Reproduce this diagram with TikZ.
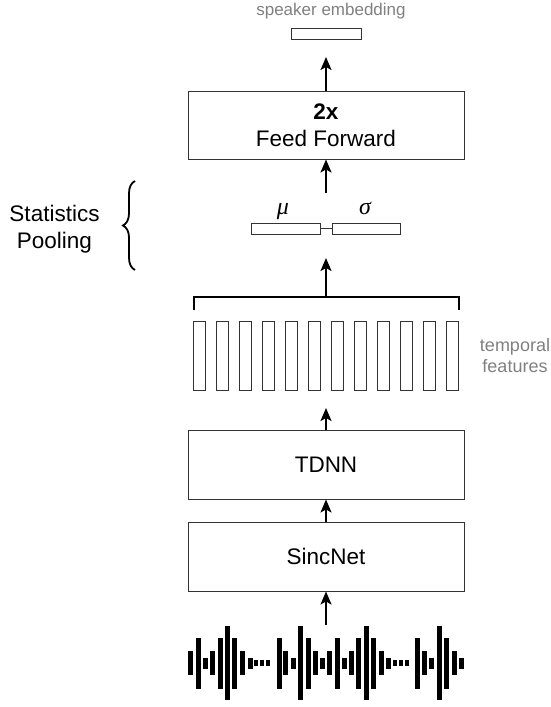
\documentclass[tikz,border=0pt]{standalone}
\usepackage{fontspec}
\setmainfont{Liberation Sans}
\newfontfamily\greekserif{Liberation Serif}
\usetikzlibrary{arrows.meta,decorations.pathreplacing}
\begin{document}
\begin{tikzpicture}[x=1pt,y=-1pt,
  box/.style={draw=black!80, line width=1pt, minimum width=276pt, minimum height=69pt, font=\fontsize{22.5}{27}\selectfont, inner sep=0pt, align=center},
  cell/.style={draw=black!80, line width=1pt, minimum width=12pt, minimum height=69pt, inner sep=0pt},
  vec/.style={draw=black!80, line width=1pt, minimum height=11pt, inner sep=0pt},
  arr/.style={line width=2pt, -{Stealth[length=13pt,width=11pt,inset=3pt]}},
  note/.style={text=black!50, font=\fontsize{17}{21}\selectfont, align=center, inner sep=0pt},
  lbl/.style={font=\fontsize{22.5}{27}\selectfont, align=center, inner sep=0pt},
  greek/.style={font=\fontsize{24}{27}\selectfont\greekserif\itshape, inner sep=0pt},
  wbar/.style={fill=black, draw=none},
]
\useasboundingbox (0,0) rectangle (550,707);

% speaker embedding
\node[note, anchor=base] (se) at (331,15) {speaker embedding};
\node[vec, minimum width=70pt] (emb) at (326,33.5) {};
\coordinate (embin) at (326,57);

% feed forward
\node[box, minimum height=68pt] (ff) at (326,125) {\textbf{2x}\\Feed Forward};
\draw[arr] (ff.north) -- (embin);

% statistics pooling
\node[vec, minimum width=69pt] (mu) at (285.5,228.5) {};
\node[vec, minimum width=68pt] (sigma) at (366,228.5) {};
\draw[line width=1pt, draw=black!80] (mu.east) -- (sigma.west);
\node[greek, anchor=base] (mul) at (283,214) {μ};
\node[greek, anchor=base] (sigl) at (365,214) {σ};
\coordinate (poolout) at (326,193);
\draw[arr] (poolout) -- (ff.south);

\draw[decorate, decoration={brace, amplitude=12pt}, line width=1.8pt] (135,270) -- (135,181);
\node[lbl] (sp) at (54.5,229.5) {Statistics\\Pooling};

% temporal features
\foreach \i in {0,...,11} {
  \node[cell] (t\i) at ({199.5+23.04*\i},355.5) {};
}
\coordinate (bl) at (193.5,310);
\coordinate (br) at (458.5,310);
\coordinate (brt) at (326,297);
\draw[line width=2pt] (bl) |- (brt) -| (br);
\coordinate (poolin) at (326,258);
\draw[arr] (brt) -- (poolin);
\node[note, font=\fontsize{18}{21}\selectfont] (tf) at (515,355.5) {temporal\\features};

% TDNN and SincNet
\node[box] (tdnn) at (326,464.5) {TDNN};
\coordinate (tdout) at (326,408);
\draw[arr] (tdnn.north) -- (tdout);
\node[box] (sinc) at (326,556.5) {SincNet};
\draw[arr] (sinc.north) -- (tdnn.south);
\coordinate (wav) at (326,625);
\draw[arr] (wav) -- (sinc.south);

% waveform
\foreach \x/\h in {190/24, 198/51, 205/11, 212.5/24, 220/51, 227.5/74, 234.5/51, 242/24, 250/11,
  279/51, 285.5/24, 293/11, 300.3/74, 308/51, 315.3/24, 322.5/11, 329.8/24, 337.2/51, 344.5/11, 351.7/24, 358.8/51, 366.5/74, 373.7/51, 381.2/24, 388.3/11,
  417/51, 424.5/24, 431.5/11, 439/74, 446/51, 454/24, 461/11} {
  \fill[wbar] ({\x-2.5},{663-\h/2}) rectangle ({\x+2.5},{663+\h/2});
}
\foreach \x in {255.7, 261.7, 267.7, 395, 401, 407} {
  \fill[wbar] ({\x-2},660) rectangle ({\x+2},666);
}
\end{tikzpicture}
\end{document}
